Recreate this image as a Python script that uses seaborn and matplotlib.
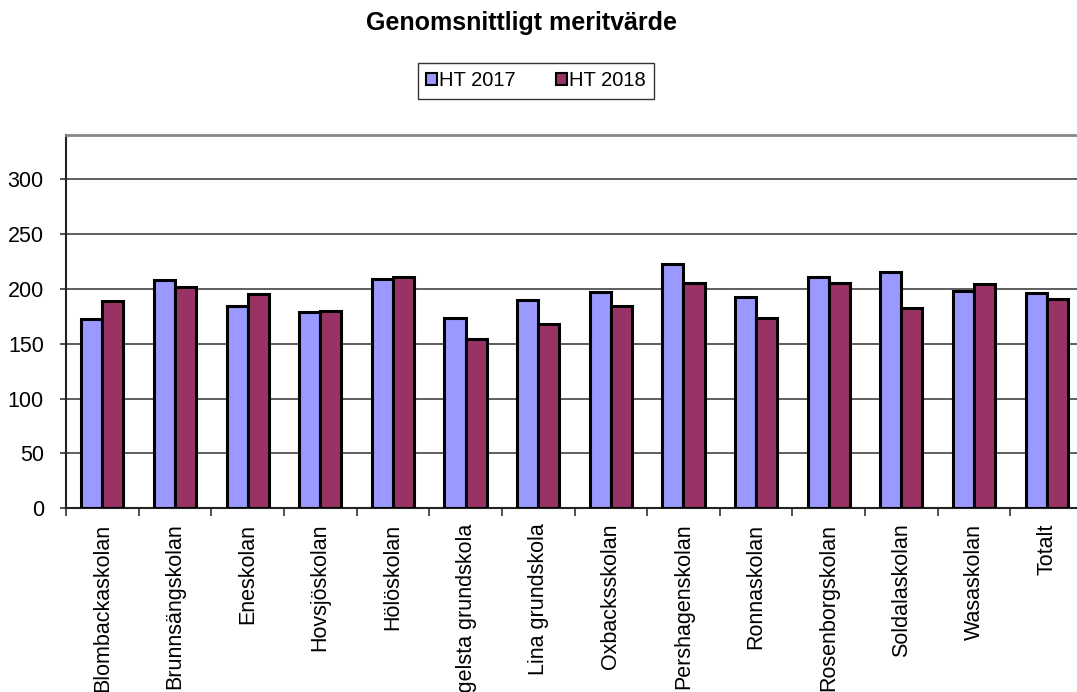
import matplotlib
matplotlib.use("Agg")
import matplotlib.pyplot as plt
import seaborn as sns
import pandas as pd
import numpy as np
from matplotlib.patches import Patch
from matplotlib.ticker import FixedLocator

schools = ["Blombackaskolan", "Brunnsängskolan", "Eneskolan", "Hovsjöskolan",
           "Hölöskolan", "Ögelsta grundskola", "Lina grundskola", "Oxbacksskolan",
           "Pershagenskolan", "Ronnaskolan", "Rosenborgskolan", "Soldalaskolan",
           "Wasaskolan", "Totalt"]
ht2017 = [172, 208, 184, 179, 208.5, 173, 189.6, 196.6, 222.4, 192.6, 210.9, 214.8, 197.8, 196.3]
ht2018 = [188.7, 201.8, 194.8, 179.6, 210.3, 153.8, 167.7, 184.4, 205.4, 173, 204.8, 182, 203.9, 190.2]
series = ["HT 2017", "HT 2018"]
colors = ["#9999FF", "#993366"]
yticks = [0, 50, 100, 150, 200, 250, 300]

df = pd.DataFrame({
    "school": schools * 2,
    "value": ht2017 + ht2018,
    "year": [series[0]] * len(schools) + [series[1]] * len(schools),
})

sns.set_theme(style="white")
plt.rcParams["font.family"] = ["Liberation Sans", "DejaVu Sans"]
plt.rcParams["text.color"] = "black"
plt.rcParams["xtick.color"] = "black"
plt.rcParams["ytick.color"] = "black"
plt.rcParams["axes.labelcolor"] = "black"

fig = plt.figure(figsize=(10.77, 6.92), dpi=100)
ax = fig.add_axes([66 / 1077, 183.7 / 692, (1083 - 66) / 1077, (557 - 183.7) / 692])

sns.barplot(data=df, x="school", y="value", hue="year", order=schools,
            hue_order=series, palette=colors, edgecolor="black", linewidth=2.2,
            width=0.58, gap=0, saturation=1, legend=False, ax=ax, zorder=3)

ax.set_ylim(0, 340)
ax.set_xlim(-0.5, len(schools) - 0.5)
ax.set_yticks(yticks)
ax.set_yticklabels([str(v) for v in yticks], fontsize=15.5, color="black")
ax.yaxis.grid(True, color="#333333", linewidth=1.1, zorder=0)
ax.set_axisbelow(True)
ax.set_xlabel("")
ax.set_ylabel("")

ax.set_xticks(range(len(schools)))
ax.set_xticklabels(schools, rotation=90, fontsize=15.5, va="top", ha="center", color="black")
ax.tick_params(axis="x", which="major", length=0, pad=11)
ax.xaxis.set_minor_locator(FixedLocator(np.arange(-0.5, len(schools), 1.0)))
ax.tick_params(axis="x", which="minor", bottom=True, length=6, width=1.2, color="#333333")
ax.tick_params(axis="y", which="major", left=True, length=4, width=1.2, color="#333333", pad=12)

for s in ["left", "bottom"]:
    ax.spines[s].set_color("#222222")
    ax.spines[s].set_linewidth(1.5)
ax.spines["top"].set_color("#888888")
ax.spines["top"].set_linewidth(2)
ax.spines["right"].set_visible(False)

fig.text(522 / 1077, 1 - 23 / 692, "Genomsnittligt meritvärde", ha="center", va="center",
         fontsize=18, fontweight="bold", color="black")

handles = [Patch(facecolor=c, edgecolor="black", linewidth=1.5, label=l) for c, l in zip(colors, series)]
leg = fig.legend(handles=handles, loc="center", bbox_to_anchor=(536 / 1077, 1 - 81 / 692),
                 ncol=2, fontsize=14.5, frameon=True, fancybox=False, handlelength=0.55,
                 handleheight=0.55, handletextpad=0.1, columnspacing=2.0, borderpad=0.4,
                 borderaxespad=0)
leg.get_frame().set_edgecolor("black")
leg.get_frame().set_linewidth(1)
for t in leg.get_texts():
    t.set_color("black")

fig.savefig("out.png", dpi=100)
